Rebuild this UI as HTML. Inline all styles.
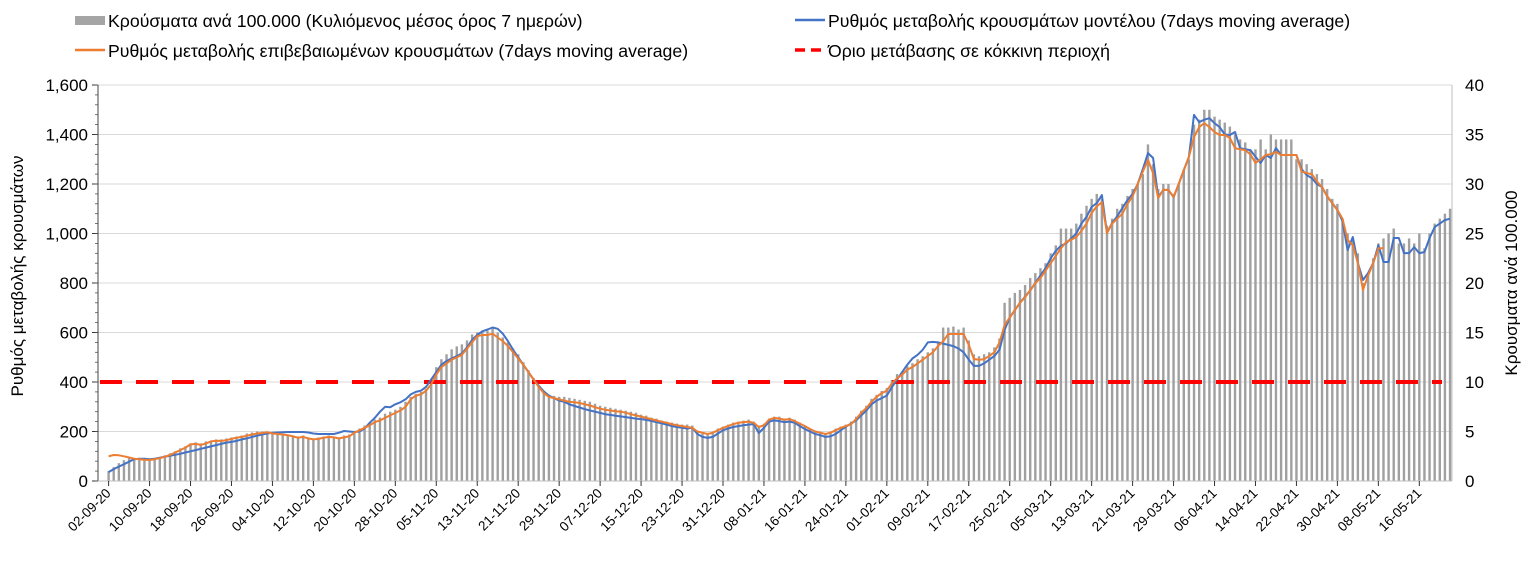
<!DOCTYPE html>
<html><head><meta charset="utf-8"><style>
body{margin:0;background:#fff;}
svg{display:block;font-family:"Liberation Sans",sans-serif;}
</style></head><body>
<svg id="chart" width="1534" height="574" viewBox="0 0 1534 574" xmlns="http://www.w3.org/2000/svg">
<g id="legend" font-size="17.7" fill="#000">
 <g><rect x="75" y="16" width="30" height="9" fill="#a5a5a5"/><text x="108" y="27">Κρούσματα ανά 100.000 (Κυλιόμενος μέσος όρος 7 ημερών)</text></g>
 <g><line x1="795" y1="20" x2="825" y2="20" stroke="#4472c4" stroke-width="2.5"/><text x="828" y="27">Ρυθμός μεταβολής κρουσμάτων μοντέλου (7days moving average)</text></g>
 <g><line x1="75" y1="50" x2="105" y2="50" stroke="#ed7d31" stroke-width="2.5"/><text x="108" y="57">Ρυθμός μεταβολής επιβεβαιωμένων κρουσμάτων (7days moving average)</text></g>
 <g><line x1="795" y1="50" x2="825" y2="50" stroke="#ff0000" stroke-width="3.5" stroke-dasharray="10,6"/><text x="828" y="57">Όριο μετάβασης σε κόκκινη περιοχή</text></g>
</g>
<text transform="translate(23,276) rotate(-90)" text-anchor="middle" font-size="17">Ρυθμός μεταβολής κρουσμάτων</text>
<text transform="translate(1517,283) rotate(-90)" text-anchor="middle" font-size="17">Κρουσματα ανά 100.000</text>
<g id="grid"></g><g id="bars"></g><g id="lines"></g><g id="axes"></g>
</svg>
<script>
const startDate = [2020, 8, 2];
const leftTicks = [0,200,400,600,800,1000,1200,1400,1600];
const rightTicks = [0,5,10,15,20,25,30,35,40];
const threshold = [400];
const cases = [
1.0,1.4,1.8,2.1,2.3,2.3,2.3,2.2,2.2,2.3,
2.4,2.6,2.8,3.0,3.3,3.5,3.8,3.9,3.8,4.0,
4.1,4.2,4.2,4.3,4.4,4.5,4.6,4.8,4.9,5.0,
5.0,5.0,4.9,4.8,4.8,4.7,4.6,4.5,4.6,4.4,
4.3,4.4,4.5,4.6,4.5,4.4,4.6,4.7,5.0,5.3,
5.6,5.9,6.2,6.4,6.8,7.0,7.2,7.5,8.0,8.5,
8.8,9.0,9.3,10.0,11.5,12.3,12.8,13.3,13.6,13.8,
14.2,14.8,15.0,15.2,15.2,15.4,15.0,14.5,14.0,13.4,
12.8,12.0,11.2,10.4,9.6,9.0,8.7,8.6,8.5,8.5,
8.4,8.3,8.2,8.1,8.0,7.8,7.6,7.5,7.4,7.3,
7.2,7.1,7.0,6.9,6.7,6.6,6.4,6.3,6.1,6.0,
5.9,5.8,5.7,5.7,5.6,5.1,4.9,4.8,5.0,5.3,
5.5,5.7,5.9,6.0,6.1,6.2,6.0,5.6,5.8,6.3,
6.5,6.5,6.3,6.4,6.2,5.9,5.6,5.3,5.1,5.0,
4.8,5.0,5.3,5.5,5.7,6.0,6.5,7.1,7.6,8.3,
8.7,9.1,9.4,10.2,10.8,11.0,11.6,11.9,12.3,12.6,
13.0,13.4,14.0,15.5,15.5,15.6,15.3,15.5,14.2,12.8,
12.6,12.8,13.0,13.5,14.4,18.0,18.5,19.0,19.3,19.8,
20.5,21.0,21.5,22.0,23.0,23.8,25.5,25.5,25.5,26.0,
27.0,27.8,28.5,29.0,28.5,25.8,26.5,27.5,28.0,28.8,
29.5,30.0,31.0,34.0,32.0,29.5,30.0,30.0,29.0,30.0,
31.5,32.5,36.0,36.5,37.5,37.5,36.8,36.5,36.2,35.8,
35.0,34.5,34.2,33.5,33.5,34.5,33.5,35.0,34.5,34.5,
34.5,34.5,32.5,32.5,32.0,31.5,31.0,30.5,29.5,28.5,
28.0,26.5,25.0,24.5,23.0,20.0,21.0,22.5,24.0,24.5,
25.0,25.5,24.0,24.0,24.5,24.0,25.0,23.5,25.0,26.0,26.5,27.0,27.5];
const modelRate = [
36,48,58,68,78,88,90,90,88,90,
94,98,102,106,110,115,120,125,130,135,
140,145,150,155,158,162,168,172,178,183,
188,192,195,196,197,198,198,198,198,196,
192,190,190,190,190,195,202,200,198,200,
212,235,255,280,300,298,310,318,330,350,
360,365,380,410,440,470,485,495,505,515,
540,570,590,605,612,620,615,595,565,530,
500,470,440,410,385,362,345,335,325,320,
310,303,297,290,285,280,275,270,267,264,
261,258,255,252,250,247,243,238,233,228,
222,218,215,212,215,190,178,174,178,192,
205,212,218,222,225,228,230,194,215,240,
245,242,238,240,235,222,210,200,190,185,
178,180,190,205,220,232,245,265,285,310,
325,335,345,380,410,440,470,495,510,530,
560,562,560,555,550,545,535,520,490,465,
465,475,490,505,530,610,660,690,720,745,
770,800,830,860,900,930,950,960,980,1000,
1040,1067,1107,1123,1155,1002,1042,1070,1103,1135,
1160,1200,1260,1325,1305,1147,1176,1176,1147,1200,
1256,1309,1479,1450,1460,1466,1446,1430,1400,1398,
1410,1345,1340,1337,1310,1285,1317,1305,1345,1317,
1317,1317,1317,1260,1236,1224,1200,1188,1150,1123,
1095,1050,933,986,880,812,840,881,953,885,
885,982,982,921,921,945,921,925,982,1026,1040,1054,1060];
const confirmedRate = [
100,105,104,100,95,90,88,86,85,88,
92,98,105,115,125,135,148,150,146,152,
160,163,162,165,170,175,178,183,188,192,
194,197,192,190,188,185,180,175,178,172,
168,170,175,178,176,172,176,180,195,205,
215,225,238,245,255,265,275,285,300,330,
345,350,365,390,430,460,475,490,500,510,
535,560,585,590,590,595,580,565,545,520,
495,470,440,410,380,355,340,335,330,325,
320,318,315,310,305,298,292,288,285,282,
280,276,270,265,260,255,250,245,240,235,
230,225,222,218,215,200,195,190,195,205,
215,222,230,235,238,240,235,218,225,248,
255,252,248,250,242,232,222,210,200,195,
190,195,205,215,222,230,250,275,295,320,
340,355,365,395,415,430,450,460,475,490,
505,520,545,565,594,594,594,594,550,493,
490,492,505,520,560,630,660,690,720,743,
770,800,820,850,880,910,940,965,975,986,
1010,1040,1083,1110,1127,1002,1040,1060,1080,1120,
1150,1200,1250,1297,1244,1143,1176,1176,1147,1200,
1256,1309,1390,1430,1446,1430,1410,1398,1398,1386,
1345,1340,1337,1320,1285,1300,1317,1320,1330,1317,
1317,1317,1317,1250,1244,1240,1210,1188,1150,1123,
1095,1060,974,953,880,772,830,881,940,940];

const NS='http://www.w3.org/2000/svg';
const PL=98, PR=1452, PT=85, PB=481;
const X0=108.6, DX=5.12;
function xDay(d){return X0+DX*d;}
function yLeft(v){return PB-(v/1600)*(PB-PT);}
function yRight(v){return PB-(v/40)*(PB-PT);}
function mk(tag,attrs,parent){const e=document.createElementNS(NS,tag);for(const k in attrs)e.setAttribute(k,attrs[k]);parent.appendChild(e);return e;}
const grid=document.getElementById('grid'), barsG=document.getElementById('bars'), linesG=document.getElementById('lines'), axes=document.getElementById('axes');

leftTicks.forEach((t,i)=>{
  const y=yLeft(t);
  if(t>0){const g=mk('line',{x1:PL,x2:PR,y1:y,y2:y,stroke:'#d9d9d9','stroke-width':1},grid);
  
  }
  const tl=mk('text',{x:88,y:y+6,'text-anchor':'end','font-size':17},axes);tl.textContent=t.toLocaleString('en-US');
  
  
  mk('line',{x1:PL-6,x2:PL,y1:y,y2:y,stroke:'#333'},axes);
});
for(let v=0;v<=1600;v+=40){mk('line',{x1:PL-3,x2:PL,y1:yLeft(v),y2:yLeft(v),stroke:'#555','stroke-width':0.8},axes);}
rightTicks.forEach(t=>{
  const y=yRight(t);
  const tl=mk('text',{x:1465,y:y+6,'font-size':17},axes);tl.textContent=t;
  
  
});
mk('line',{x1:PL,x2:PL,y1:PT,y2:PB,stroke:'#444'},axes);
mk('line',{x1:PR,x2:PR,y1:PT,y2:PB,stroke:'#bfbfbf'},axes);
mk('line',{x1:PL,x2:PR,y1:PB,y2:PB,stroke:'#bfbfbf'},axes);

cases.forEach((v,d)=>{
  const x=xDay(d), y=yRight(v);
  const b=mk('rect',{x:x-1.2,y:y,width:2.4,height:PB-y,fill:'#a0a0a0'},barsG);
  
  
});

const th=mk('line',{x1:100,x2:1442,y1:yLeft(threshold[0]),y2:yLeft(threshold[0]),stroke:'#ff0000','stroke-width':4,'stroke-dasharray':'22,14'},linesG);



function line(arr,color,name){
  const p=mk('polyline',{points:arr.map((v,d)=>xDay(d).toFixed(1)+','+yLeft(v).toFixed(1)).join(' '),fill:'none',stroke:color,'stroke-width':2,'stroke-linejoin':'round'},linesG);
  
  
}
line(modelRate,'#4472c4','model-rate-line');
line(confirmedRate,'#ed7d31','confirmed-rate-line');

const months=[31,28,31,30,31,30,31,31,30,31,30,31];
function dateLabel(d){
  let y=startDate[0], m=startDate[1], day=startDate[2]+d;
  while(true){let ml=(m===1&&y%4===0)?29:months[m];if(day<=ml)break;day-=ml;m++;if(m>11){m=0;y++;}}
  const p=n=>String(n).padStart(2,'0');
  return p(day)+'-'+p(m+1)+'-'+String(y).slice(2);
}
for(let d=0;d<cases.length;d+=8){
  const x=xDay(d);
  mk('line',{x1:x,x2:x,y1:PB,y2:PB+5,stroke:'#333'},axes);
  const t=mk('text',{transform:`translate(${x+3},${PB+13}) rotate(-45)`,'text-anchor':'end','font-size':13.5},axes);
  t.textContent=dateLabel(d);
  
  
}
</script>
</body></html>
